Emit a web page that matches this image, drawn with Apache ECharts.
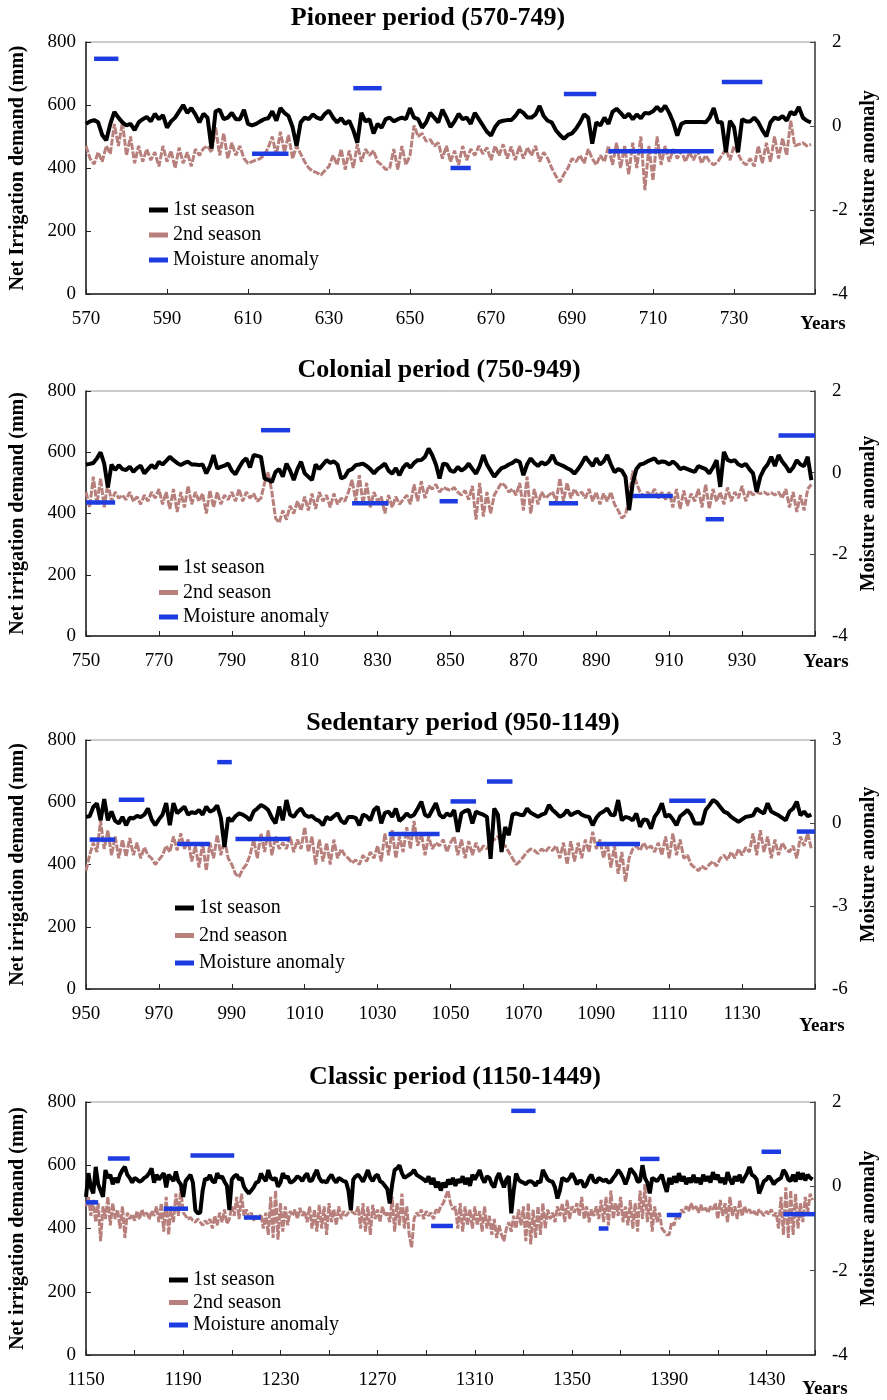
<!DOCTYPE html>
<html><head><meta charset="utf-8">
<script src="https://cdn.jsdelivr.net/npm/echarts@6/dist/echarts.min.js"></script>
<style>html,body{margin:0;padding:0;background:#fff}#c{width:887px;height:1400px}</style>
</head><body><div id="c"></div>
<script>
// ---------- DATA ----------
const titles = ['Pioneer period (570-749)', 'Colonial period (750-949)', 'Sedentary period (950-1149)', 'Classic period (1150-1449)'];
const yNames = ['Net Irrigation demand (mm)', 'Net irrigation demand (mm)', 'Net irrigation demand (mm)', 'Net irrigation demand (mm)'];
const seriesNames = ['1st season', '2nd season', 'Moisture anomaly'];
const yearRanges = [[570, 750], [750, 950], [950, 1150], [1150, 1450]];
const anomalyRanges = [[-4, 2, 2], [-4, 2, 2], [-6, 3, 3], [-4, 2, 2]];

// Pioneer period, one value per year from 570
const first1 = [
540,548,552,545,505,488,540,578,560,545,
535,540,520,545,555,562,548,572,555,568,
528,548,560,580,600,575,590,570,545,572,
560,462,580,585,555,560,575,555,555,585,
540,535,540,548,555,558,580,550,590,575,
565,530,470,545,560,555,570,560,555,572,
582,560,545,558,540,550,520,480,575,548,
555,510,540,528,555,560,548,555,560,555,
590,560,555,528,545,575,560,545,585,560,
530,548,572,555,560,540,575,555,535,515,
503,530,546,550,552,552,565,584,575,560,
560,570,597,565,550,545,520,505,493,505,
510,525,545,570,560,477,545,535,560,540,
578,588,575,560,572,555,570,558,575,573,
580,594,580,598,575,545,503,540,546,546,
546,546,546,545,560,590,545,545,450,550,
530,450,555,548,548,560,545,520,500,545,
560,555,565,550,578,570,594,560,550,545];
const second1 = [
470,430,412,450,420,470,445,540,470,545,
440,500,415,470,420,460,425,450,405,470,
420,455,400,465,415,450,405,460,440,462,
470,450,530,440,510,430,480,440,470,430,
415,420,425,430,440,465,500,440,515,450,
505,430,470,445,420,400,390,385,378,392,
405,440,410,460,395,455,400,475,420,460,
440,455,420,410,395,400,460,395,470,410,
440,535,500,510,485,490,470,480,430,470,
420,455,410,470,425,460,440,470,445,465,
425,470,440,475,430,468,425,470,430,465,
440,470,420,450,430,400,375,355,380,400,
430,420,440,415,460,430,410,440,420,470,
410,480,400,470,380,480,400,500,330,470,
360,500,410,470,420,460,430,455,420,450,
425,455,415,440,420,410,420,440,460,425,
470,445,420,410,430,405,470,415,480,420,
500,430,495,440,550,470,475,480,470,475];
const moist1 = [[572,578,1.6],[611,620,-0.66],[636,643,0.9],[660,665,-1.0],[688,696,0.76],[699,725,-0.6],[727,737,1.05]];

// Colonial period, from 750
const first2 = [
560,562,565,580,600,563,485,560,542,558,
545,542,553,536,548,556,531,545,558,548,
569,560,572,585,574,565,558,565,569,560,
560,558,560,531,555,591,547,552,556,563,
540,528,550,570,580,550,591,588,585,514,
510,503,536,545,520,563,540,509,545,569,
531,520,509,560,545,560,574,565,570,560,
514,520,540,545,558,560,563,555,545,531,
545,553,563,540,530,548,525,550,563,550,
565,574,575,585,612,590,560,514,563,560,
540,536,552,540,548,563,545,530,555,591,
560,540,520,535,548,552,560,565,574,568,
525,560,580,565,555,568,560,570,591,565,
560,555,548,542,530,545,563,585,570,555,
580,560,570,591,560,535,545,540,520,411,
500,545,560,563,570,575,580,565,570,568,
560,570,560,545,550,545,540,536,555,550,
545,531,550,574,487,601,575,570,574,560,
555,562,545,531,471,520,545,560,585,555,
591,570,555,536,550,574,560,555,585,509];
const second2 = [
470,420,520,430,515,420,500,440,470,450,
460,445,470,440,455,430,460,440,470,450,
480,430,470,415,480,405,470,420,490,430,
470,440,465,400,475,420,470,430,460,445,
470,440,480,440,470,450,465,440,450,500,
535,470,385,370,410,380,425,400,440,410,
455,410,465,415,470,440,460,420,465,430,
450,440,470,510,440,525,430,500,420,470,
440,455,400,460,420,455,430,445,460,430,
495,440,505,450,490,480,495,470,485,480,
475,485,470,460,475,445,490,380,500,390,
470,400,460,480,500,490,470,480,460,500,
410,520,400,480,430,470,450,460,470,440,
515,440,500,450,480,460,470,450,480,440,
470,430,465,440,470,430,410,385,395,450,
540,500,470,455,470,460,480,450,470,445,
470,420,480,415,475,425,465,440,480,420,
495,415,480,440,470,430,485,440,470,450,
490,440,475,460,470,465,470,462,468,460,
470,450,480,420,470,405,460,410,480,495];
const moist2 = [[750,758,-0.73],[798,806,1.04],[823,833,-0.75],[847,852,-0.7],[877,885,-0.75],[900,911,-0.57],[920,925,-1.14],[940,950,0.91]];

// Sedentary period, from 950
const first3 = [
553,555,585,596,542,610,542,570,540,532,
553,526,550,548,556,552,560,580,545,526,
545,560,597,526,597,565,575,586,560,568,
565,575,560,586,570,575,590,550,456,550,
540,555,564,560,553,542,570,580,591,585,
575,550,532,586,542,607,560,553,570,580,
560,553,556,545,540,526,553,545,555,564,
540,532,553,553,550,526,560,555,542,575,
586,532,566,570,553,580,540,550,564,553,
560,580,602,560,553,575,597,560,550,564,
556,575,505,564,572,575,532,570,564,560,
553,418,580,560,440,520,494,560,564,560,
558,580,566,560,553,560,564,591,575,565,
553,560,575,558,565,570,560,555,553,526,
550,564,570,580,560,558,607,542,553,550,
542,564,521,545,542,515,553,570,597,553,
560,545,526,555,564,575,560,532,532,532,
575,590,607,600,585,570,565,553,545,537,
545,553,555,558,580,570,564,597,570,564,
558,550,542,570,580,602,558,570,555,560];
const second3 = [
380,430,470,440,540,450,510,430,490,420,
480,425,485,430,470,420,455,430,420,400,
415,430,460,440,490,445,500,450,480,410,
460,390,470,380,470,420,495,430,480,420,
400,370,360,385,400,430,480,420,500,440,
510,430,490,450,470,450,490,440,480,450,
520,440,490,400,480,410,470,400,480,420,
450,430,420,405,415,400,430,410,440,420,
460,410,500,430,510,420,490,440,520,450,
540,460,500,430,490,450,470,460,480,440,
470,490,430,480,420,475,430,470,440,460,
450,470,480,490,470,460,440,420,400,410,
425,440,450,445,435,450,440,455,445,460,
420,470,400,475,410,470,420,480,440,505,
450,480,420,470,390,460,370,440,345,420,
450,460,445,470,450,460,440,470,430,490,
420,500,430,480,420,430,400,390,380,395,
385,400,410,395,420,430,415,440,420,450,
430,455,440,500,430,510,440,490,420,480,
430,470,450,440,460,420,490,460,500,450];
const moist3 = [[951,958,-0.6],[959,966,0.84],[975,984,-0.76],[986,990,2.2],[991,1006,-0.58],[1033,1047,-0.4],[1050,1057,0.78],[1060,1067,1.5],[1090,1102,-0.76],[1110,1120,0.8],[1145,1150,-0.31]];

// Classic period, from 1150
const first4 = [
500,575,530,511,595,540,520,500,585,560,
570,540,560,545,570,585,595,570,560,545,
560,555,548,552,560,565,575,590,545,570,
555,565,575,530,570,560,550,580,550,540,
500,550,560,570,545,458,448,450,520,558,
555,569,550,545,575,560,565,548,535,458,
555,565,570,555,560,532,520,511,520,530,
545,548,574,560,550,585,560,555,560,532,
545,575,560,565,545,548,555,565,560,550,
565,574,550,552,570,585,560,548,550,545,
560,570,555,545,560,555,550,548,520,458,
555,565,570,560,548,565,585,560,550,565,
570,550,545,535,525,479,540,585,590,600,
575,560,565,570,575,585,570,565,560,555,
548,565,540,560,530,548,520,545,530,555,
540,560,535,555,545,565,540,560,535,570,
555,569,585,560,545,565,560,540,530,560,
575,550,530,555,565,448,520,574,555,548,
545,540,548,550,545,535,550,545,585,570,
555,550,548,530,495,520,560,555,550,560,
574,560,540,550,550,530,540,560,570,550,
545,560,555,550,555,545,548,560,570,585,
575,560,540,560,590,580,570,548,550,600,
560,545,511,560,555,550,560,570,540,516,
560,540,565,545,575,550,565,540,560,545,
570,545,560,540,570,550,565,545,578,555,
570,545,560,540,578,555,540,565,550,570,
545,560,574,595,570,565,555,511,530,550,
555,565,555,540,550,555,560,585,575,555,
550,570,548,578,555,575,552,570,560,555];
const second4 = [
470,500,440,490,420,480,360,470,430,500,
410,480,430,460,400,470,370,450,430,445,
425,455,430,460,440,450,430,455,440,470,
420,480,390,500,380,470,420,510,440,525,
450,440,430,435,425,420,430,420,410,425,
415,430,400,440,410,450,420,460,415,430,
470,440,500,430,510,440,460,435,450,425,
440,430,445,400,450,380,500,370,520,365,
480,390,470,410,455,440,460,430,465,440,
455,420,470,400,460,390,475,400,470,380,
480,420,460,410,470,430,455,440,450,455,
450,445,470,400,480,390,470,380,475,430,
460,420,470,440,450,420,500,390,480,410,
510,400,470,380,340,430,450,440,460,430,
455,440,450,430,460,450,470,480,500,520,
480,460,470,400,480,390,470,410,460,400,
470,410,455,390,470,400,440,380,430,370,
410,380,360,400,420,390,440,400,460,410,
470,360,480,350,460,370,470,380,480,400,
460,430,450,420,470,440,480,420,490,430,
470,450,480,440,500,430,470,420,460,440,
470,430,490,420,500,410,520,430,480,440,
500,420,470,410,490,400,480,390,520,430,
540,420,500,390,470,420,450,400,390,380,
380,420,410,440,430,460,450,470,455,480,
460,470,450,475,455,465,450,470,460,480,
430,490,440,480,420,500,440,470,430,490,
440,470,450,460,445,455,440,460,450,440,
455,445,460,440,450,400,500,380,530,370,
520,380,510,400,480,420,500,450,510,490];
const moist4 = [[1150,1155,-0.38],[1159,1168,0.66],[1182,1192,-0.53],[1193,1211,0.73],[1215,1222,-0.74],[1292,1301,-0.94],[1325,1335,1.79],[1361,1365,-1.0],[1378,1386,0.65],[1389,1395,-0.68],[1428,1436,0.82],[1437,1450,-0.66]];

// ---------- LAYOUT / STYLE ----------
const FONT = "'Liberation Serif','Times New Roman',serif";
const BLACK = '#000000', PINK = '#b7807c', BLUE = '#1c3be0';
const firsts = [first1, first2, first3, first4];
const seconds = [second1, second2, second3, second4];
const moists = [moist1, moist2, moist3, moist4];
const layout = [
  {grid:{left:84,right:70,top:42,height:252}, tx:428, tt:5,   lg:{left:149,top:200,gap:5},   yPad:21, yGap:8, step:20},
  {grid:{left:84,right:69,top:391,height:245}, tx:439, tt:357, lg:{left:159,top:558,gap:4.5}, yPad:17, yGap:11, step:20},
  {grid:{left:85,right:66,top:740,height:249}, tx:463, tt:710, lg:{left:175,top:898,gap:7.5}, yPad:28, yGap:7, step:20},
  {grid:{left:84,right:69,top:1102,height:253}, tx:455, tt:1064, lg:{left:169,top:1270,gap:2.5}, yPad:25, yGap:10, step:40}
];

const opt = {backgroundColor:'#fff', animation:false, title:[], grid:[], xAxis:[], yAxis:[], legend:[], series:[]};
const lblStyle = {color:'#000', fontFamily:FONT, fontSize:19};
function renderSeg(params, api) {
  const a = api.coord([api.value(0), api.value(2)]);
  const b = api.coord([api.value(1), api.value(2)]);
  return {type:'line', shape:{x1:a[0], y1:a[1], x2:b[0], y2:b[1]}, style:{stroke:BLUE, lineWidth:4.5}};
}
layout.forEach((L, i) => {
  const [x0, x1] = yearRanges[i];
  const [rMin, rMax, rInt] = anomalyRanges[i];
  opt.title.push({text:titles[i], left:L.tx, top:L.tt, textAlign:'center', padding:0,
    textStyle:{fontFamily:FONT, fontWeight:'bold', fontSize:26, color:'#000'}});
  opt.grid.push(Object.assign({show:true, borderColor:'#999', borderWidth:1}, L.grid));
  opt.xAxis.push({gridIndex:i, type:'value', min:x0, max:x1, interval:20,
    axisLine:{lineStyle:{color:'#222', width:1.5}}, axisTick:{inside:true, length:5, lineStyle:{color:'#222'}},
    splitLine:{show:false},
    axisLabel:Object.assign({margin:16, formatter:v => (v >= x1 || (v - x0) % L.step) ? '' : String(v)}, lblStyle),
    name:'Years', nameLocation:'end', nameGap:L.yGap,
    nameTextStyle:{fontFamily:FONT, fontWeight:'bold', fontSize:19, color:'#000', align:'center', verticalAlign:'top', padding:[L.yPad,0,0,0]}});
  opt.yAxis.push({gridIndex:i, type:'value', min:0, max:800, interval:200, position:'left',
    axisLine:{show:true, lineStyle:{color:'#222', width:1.5}}, axisTick:{show:true, inside:true, length:5, lineStyle:{color:'#222'}},
    splitLine:{show:false}, axisLabel:Object.assign({margin:10}, lblStyle),
    name:yNames[i], nameLocation:'middle', nameGap:58,
    nameTextStyle:{fontFamily:FONT, fontWeight:'bold', fontSize:20, color:'#000'}});
  opt.yAxis.push({gridIndex:i, type:'value', min:rMin, max:rMax, interval:rInt, position:'right',
    axisLine:{show:true, lineStyle:{color:'#444', width:1.5}}, axisTick:{show:true, inside:true, length:5, lineStyle:{color:'#444'}},
    splitLine:{show:false}, axisLabel:Object.assign({margin:17}, lblStyle),
    name:'Moisture anomaly', nameLocation:'middle', nameGap:44,
    nameTextStyle:{fontFamily:FONT, fontWeight:'bold', fontSize:20, color:'#000'}});
  opt.legend.push({orient:'vertical', left:L.lg.left, top:L.lg.top, itemGap:L.lg.gap, itemWidth:19, itemHeight:5,
    padding:0, icon:'rect', selectedMode:false, data:seriesNames,
    textStyle:{fontFamily:FONT, fontSize:20, color:'#000', lineHeight:20}});
  opt.series.push({type:'line', name:seriesNames[1], xAxisIndex:i, yAxisIndex:2*i,
    data:seconds[i].map((v, k) => [x0 + k, v]), symbol:'none', showSymbol:false,
    lineStyle:{color:PINK, width:3, type:[7,1.5]}, itemStyle:{color:PINK}, z:2});
  opt.series.push({type:'line', name:seriesNames[0], xAxisIndex:i, yAxisIndex:2*i,
    data:firsts[i].map((v, k) => [x0 + k, v]), symbol:'none', showSymbol:false,
    lineStyle:{color:BLACK, width:4}, itemStyle:{color:BLACK}, z:3});
  opt.series.push({type:'custom', name:seriesNames[2], xAxisIndex:i, yAxisIndex:2*i+1,
    coordinateSystem:'cartesian2d', data:moists[i], encode:{x:[0,1], y:2},
    renderItem:renderSeg, itemStyle:{color:BLUE}, z:4});
});
const chart = echarts.init(document.getElementById('c'), null, {renderer:'canvas'});
chart.setOption(opt);
</script></body></html>
